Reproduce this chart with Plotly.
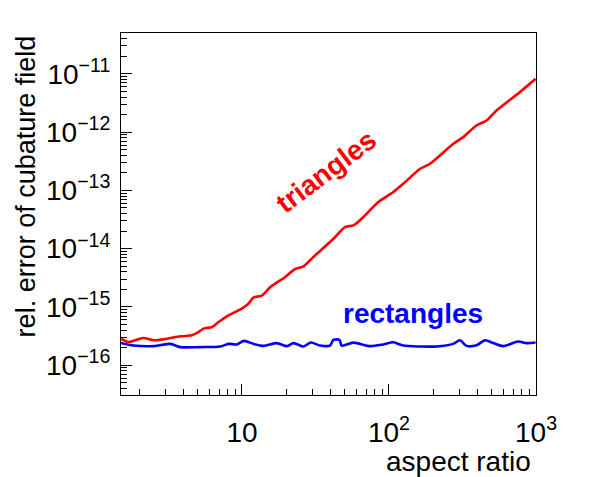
import plotly.graph_objects as go

# ---- data ----
tri_x = [1.50, 1.69, 1.93, 2.14, 2.51, 3.09, 3.80, 4.56, 4.94, 5.48, 6.24, 6.93, 8.11, 9.98,
         11.07, 11.97, 13.6, 15.6, 19.7, 23.0, 26.2, 30.6, 41.9, 50.2, 57.3, 67.0, 84.7, 107,
         125, 163, 190, 274, 320, 394, 461, 539, 777, 993]
tri_y = [2.86e-16, 2.51e-16, 2.75e-16, 2.94e-16, 2.68e-16, 2.86e-16, 3.14e-16, 3.27e-16,
         3.58e-16, 4.25e-16, 4.54e-16, 5.53e-16, 7.2e-16, 9.36e-16, 1.14e-15, 1.45e-15,
         1.56e-15, 2.2e-15, 3.27e-15, 4.48e-15, 4.98e-15, 7.2e-15, 1.48e-14, 2.35e-14,
         2.51e-14, 3.49e-14, 6.3e-14, 9.36e-14, 1.3e-13, 2.35e-13, 2.86e-13, 6.3e-13,
         8.2e-13, 1.3e-12, 1.58e-12, 2.35e-12, 4.85e-12, 8.2e-12]

rect_x = [1.50, 1.83, 2.51, 3.25, 3.80, 5.20, 7.11, 8.11, 9.23, 10.35, 11.97, 14.0, 17.3,
          20.2, 22.4, 26.2, 29.4, 34.0, 39.7, 41.9, 46.0, 47.7, 57.3, 74.3, 91.5, 107, 125,
          163, 211, 274, 304, 337, 394, 450, 512, 598, 757, 863, 993]
rect_y = [2.42e-16, 2.18e-16, 2.13e-16, 2.33e-16, 2.05e-16, 2.05e-16, 2.1e-16, 2.33e-16,
          2.28e-16, 2.62e-16, 2.33e-16, 2.15e-16, 2.4e-16, 2.13e-16, 2.4e-16, 2.1e-16,
          2.45e-16, 2.18e-16, 2.18e-16, 2.72e-16, 2.72e-16, 2.18e-16, 2.45e-16, 2.13e-16,
          2.28e-16, 2.48e-16, 2.18e-16, 2.1e-16, 2.1e-16, 2.33e-16, 2.68e-16, 2.15e-16,
          2.2e-16, 2.68e-16, 2.4e-16, 2.13e-16, 2.55e-16, 2.4e-16, 2.45e-16]

x_tick_vals = [10, 100, 1000]
x_tick_text = ["10", "10<sup>2</sup>", "10<sup>3</sup>"]
y_tick_vals = [1e-16, 1e-15, 1e-14, 1e-13, 1e-12, 1e-11]
y_tick_text = ["10<sup>\u221216</sup>", "10<sup>\u221215</sup>", "10<sup>\u221214</sup>",
               "10<sup>\u221213</sup>", "10<sup>\u221212</sup>", "10<sup>\u221211</sup>"]

x_minor = [k * 10 ** e for e in range(0, 3) for k in range(2, 10)]
y_minor = [k * 10.0 ** e for e in range(-17, -10) for k in range(2, 10)]

FONT = "Liberation Sans, Arial, Helvetica, sans-serif"
FS = 28

fig = go.Figure()
fig.add_trace(go.Scatter(x=rect_x, y=rect_y, mode="lines",
                         line=dict(color="#0000ff", width=2.6, shape="spline", smoothing=0.8)))
fig.add_trace(go.Scatter(x=tri_x, y=tri_y, mode="lines",
                         line=dict(color="#ff0000", width=2.6, shape="spline", smoothing=0.8)))

fig.update_layout(
    width=594, height=469,
    margin=dict(l=113, r=66, t=25, b=82),
    paper_bgcolor="white", plot_bgcolor="white",
    showlegend=False,
    font=dict(family=FONT, size=FS, color="black"),
)
fig.update_xaxes(
    type="log", range=[0.177, 3.0],
    showgrid=False, zeroline=False,
    showline=True, linecolor="black", linewidth=1, mirror=True,
    tickmode="array", tickvals=x_tick_vals, ticktext=x_tick_text,
    ticks="inside", ticklen=11, tickwidth=1, tickcolor="black",
    ticklabelstandoff=12,
    tickfont=dict(family=FONT, size=FS, color="black"),
    minor=dict(tickmode="array", tickvals=x_minor, ticks="inside", ticklen=6,
               tickwidth=1, tickcolor="black", showgrid=False),
)
fig.update_yaxes(
    type="log", range=[-16.51, -10.30],
    showgrid=False, zeroline=False,
    showline=True, linecolor="black", linewidth=1, mirror=True,
    tickmode="array", tickvals=y_tick_vals, ticktext=y_tick_text,
    ticks="inside", ticklen=11, tickwidth=1, tickcolor="black",
    ticklabelstandoff=4,
    tickfont=dict(family=FONT, size=FS, color="black"),
    minor=dict(tickmode="array", tickvals=y_minor, ticks="inside", ticklen=6,
               tickwidth=1, tickcolor="black", showgrid=False),
)

fig.add_annotation(text="aspect ratio", xref="paper", yref="paper",
                   x=0.993, y=-0.135, xanchor="right", yanchor="top", showarrow=False,
                   font=dict(family=FONT, size=FS, color="black"))
fig.add_annotation(text="rel. error of cubature field", xref="paper", yref="paper",
                   x=-0.228, y=1.0, xanchor="center", yanchor="top", textangle=-90,
                   showarrow=False, font=dict(family=FONT, size=27, color="black"))
fig.add_annotation(text="<b>triangles</b>", x=1.573, y=-12.68, xref="x", yref="y",
                   textangle=-37, showarrow=False,
                   font=dict(family=FONT, size=FS, color="#ff0000"))
fig.add_annotation(text="<b>rectangles</b>", x=2.165, y=-15.12, xref="x", yref="y",
                   showarrow=False,
                   font=dict(family=FONT, size=FS, color="#0000ff"))

fig.write_html("out.html")
